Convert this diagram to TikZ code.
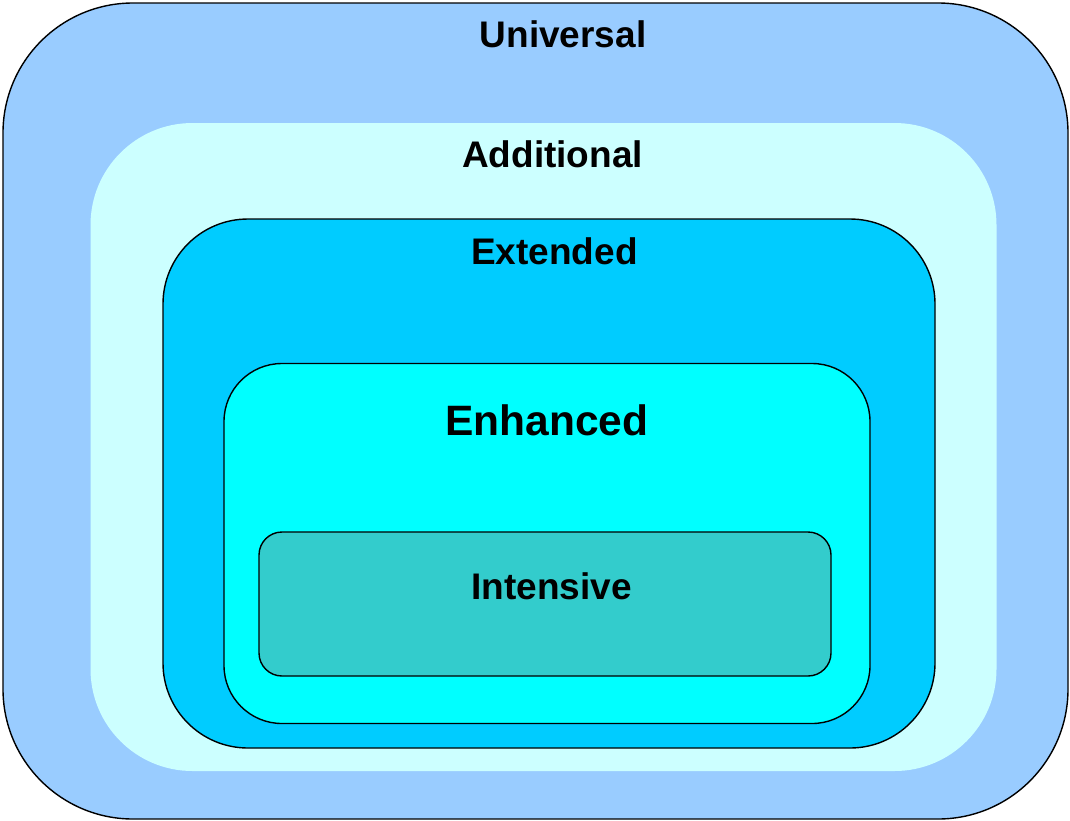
\documentclass[tikz,border=0pt]{standalone}
\usepackage{fontspec}
\setmainfont{Liberation Sans}
\definecolor{cUniv}{HTML}{99CCFF}
\definecolor{cAdd}{HTML}{CCFFFF}
\definecolor{cExt}{HTML}{00CCFF}
\definecolor{cEnh}{HTML}{00FFFF}
\definecolor{cInt}{HTML}{33CCCC}
\tikzset{
  layer/.style={rectangle, inner sep=0pt, outer sep=0pt, line width=1.4pt},
  lbl/.style={anchor=base, inner sep=0pt, font=\fontsize{37}{41}\selectfont\bfseries},
  biglbl/.style={anchor=base, inner sep=0pt, font=\fontsize{42.5}{46}\selectfont\bfseries}
}
\begin{document}
\begin{tikzpicture}[x=1pt,y=-1pt]
\useasboundingbox (0,0) rectangle (1070,820);
\node[layer, draw=black, fill=cUniv, rounded corners=130pt, minimum width=1065pt, minimum height=816pt] (univ) at (535.5,411) {};
\node[layer, fill=cAdd, rounded corners=102pt, minimum width=906pt, minimum height=648pt] (add) at (543.5,447) {};
\node[layer, draw=black, fill=cExt, rounded corners=85pt, minimum width=772pt, minimum height=529pt] (ext) at (549,483.5) {};
\node[layer, draw=black, fill=cEnh, rounded corners=58pt, minimum width=646pt, minimum height=360pt] (enh) at (547,543.5) {};
\node[layer, draw=black, fill=cInt, rounded corners=23pt, minimum width=572pt, minimum height=144pt] (int) at (545,604) {};
\node[lbl] (tuniv) at (563,47) {Universal};
\node[lbl] (tadd) at (552.5,167) {Additional};
\node[lbl] (text) at (554.5,264) {Extended};
\node[biglbl] (tenh) at (547,435) {Enhanced};
\node[lbl] (tint) at (551.5,599) {Intensive};
\end{tikzpicture}
\end{document}
